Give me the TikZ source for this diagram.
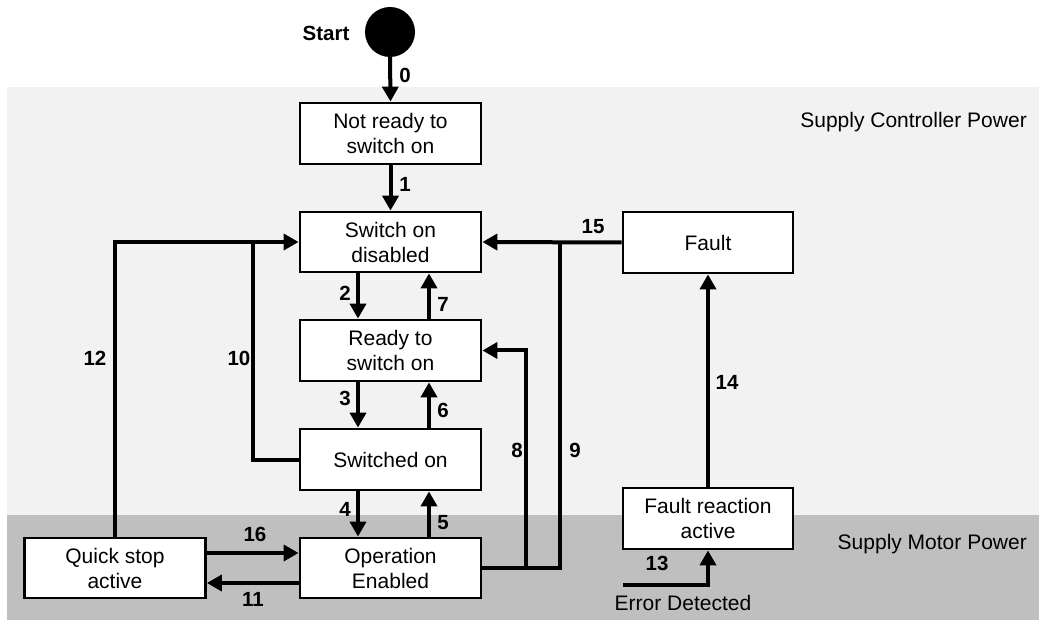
\documentclass[tikz,border=0pt]{standalone}
\usepackage{fontspec}
\setmainfont{Liberation Sans}
\usetikzlibrary{arrows.meta}
\begin{document}
\begin{tikzpicture}[x=1pt,y=-1pt,
  statebox/.style={draw=black,line width=2.8pt,fill=white,align=center,inner sep=0pt,
    minimum width=181pt,minimum height=61pt,font=\fontsize{21}{25}\selectfont},
  arr/.style={line width=4pt,-{Triangle[length=15pt,width=16pt]}},
  ln/.style={line width=4pt},
  lbl/.style={font=\fontsize{20.5}{24}\selectfont\bfseries,inner sep=0pt},
  region/.style={font=\fontsize{21}{25}\selectfont,inner sep=0pt}]
\useasboundingbox (0,0) rectangle (1039,620);
\fill[white] (0,0) rectangle (1039,620);
\fill[black!5] (7,87) rectangle (1039,515);
\fill[black!25] (7,515) rectangle (1039,620);
% start
\node[circle,fill=black,minimum size=50pt,inner sep=0pt] (start) at (390,32) {};
\node[lbl] (startlbl) at (326,33) {Start};
% states
\node[statebox] (NR) at (390.5,133.5) {Not ready to\\switch on};
\node[statebox,minimum height=60pt] (SOD) at (390.5,242) {Switch on\\disabled};
\node[statebox] (RTS) at (390.5,350.5) {Ready to\\switch on};
\node[statebox] (SO) at (390.5,459.5) {Switched on};
\node[statebox,minimum height=60pt] (OE) at (390.5,568) {Operation\\Enabled};
\node[statebox,minimum height=60pt] (QS) at (115,568) {Quick stop\\active};
\node[statebox,minimum width=170pt] (F) at (708,242.5) {Fault};
\node[statebox,minimum width=170pt] (FRA) at (708,518.5) {Fault reaction\\active};
% region labels
\node[region,anchor=east] (scp) at (1027,122) {Supply Controller Power};
\node[region,anchor=east] (smp) at (1027,544) {Supply Motor Power};
\node[region] (err) at (683,603) {Error Detected};
\coordinate (errin) at (623,585);
% transitions
\draw[arr] (start.south) -- (NR.north);
\draw[arr] (NR.south) -- (SOD.north);
\draw[arr] ([xshift=-32.5pt]SOD.south) -- ([xshift=-32.5pt]RTS.north);
\draw[arr] ([xshift=38.5pt]RTS.north) -- ([xshift=38.5pt]SOD.south);
\draw[arr] ([xshift=-32.5pt]RTS.south) -- ([xshift=-32.5pt]SO.north);
\draw[arr] ([xshift=38.5pt]SO.north) -- ([xshift=38.5pt]RTS.south);
\draw[arr] ([xshift=-32.5pt]SO.south) -- ([xshift=-32.5pt]OE.north);
\draw[arr] ([xshift=38.5pt]OE.north) -- ([xshift=38.5pt]SO.south);
\draw[arr] ([yshift=15pt]QS.east) -- ([yshift=15pt]OE.west);
\draw[arr] ([yshift=-15pt]OE.west) -- ([yshift=-15pt]QS.east);
\draw[arr] (QS.north) |- (SOD.west);
\draw[ln,line join=miter] (SO.west) -| ([xshift=-46pt]SOD.west);
\draw[arr] (F.west) -- (SOD.east);
\draw[ln] (OE.east) -| ([xshift=78pt]SOD.east);
\draw[arr] (OE.east) -| ([xshift=44pt]RTS.east) -- (RTS.east);
\draw[arr] (FRA.north) -- (F.south);
\draw[arr] (errin) -| (FRA.south);
% labels
\node[lbl] (l0) at (405,75) {0};
\node[lbl] (l1) at (405,184) {1};
\node[lbl] (l2) at (345,293) {2};
\node[lbl] (l7) at (443,304) {7};
\node[lbl] (l3) at (345,398) {3};
\node[lbl] (l6) at (443,410) {6};
\node[lbl] (l4) at (345,509) {4};
\node[lbl] (l5) at (443,523) {5};
\node[lbl] (l16) at (255,534) {16};
\node[lbl] (l11) at (253,599) {11};
\node[lbl] (l12) at (95,358) {12};
\node[lbl] (l10) at (239,358) {10};
\node[lbl] (l15) at (593,227) {15};
\node[lbl] (l8) at (517,450) {8};
\node[lbl] (l9) at (575,450) {9};
\node[lbl] (l14) at (727,382) {14};
\node[lbl] (l13) at (657,563) {13};
\end{tikzpicture}
\end{document}
